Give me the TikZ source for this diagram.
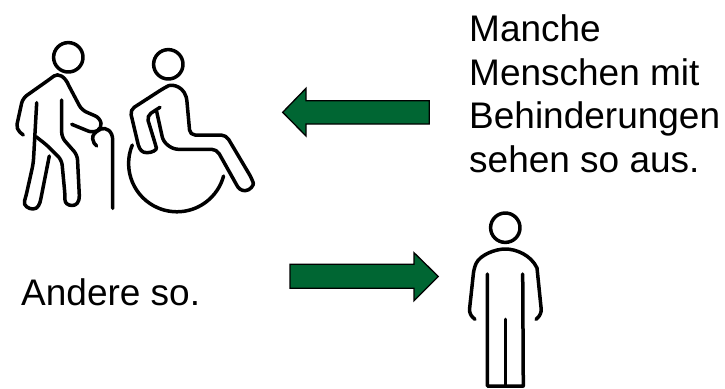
\documentclass[tikz,border=0pt]{standalone}
\usepackage{fontspec}
\setmainfont{Liberation Sans}
\definecolor{arrowgreen}{RGB}{0,102,51}
\usetikzlibrary{positioning}
\tikzset{
  pict/.style={line width=3.5pt,line cap=round,line join=round,rounded corners=5pt},
  blockarrow/.style={draw=black,fill=arrowgreen,line width=1.3pt,line join=miter},
  label/.style={font=\fontsize{37}{43.5}\selectfont,align=left,inner sep=0pt}
}
\begin{document}
\begin{tikzpicture}[x=1pt,y=-1pt]
  \useasboundingbox (0,0) rectangle (725,388);
  % man with stick
  \draw[pict] (68.3,57.3) circle (14.7);
  \draw[pict] (23.3,135) -- (16,129) -- (22.7,98.3) -- (50,79) [sharp corners] .. controls (58,73) and (65,76) .. (69,86) [rounded corners=5pt] -- (81.7,110) -- (100,118) -- (102,128) -- (93,133) -- (71.7,124.3);
  \draw[pict] (36.7,102.7) -- (33.3,163.3) -- (26,196) [sharp corners] .. controls (23,206) and (29,209) .. (33,209) .. controls (38,209) and (40,204) .. (41,198) [rounded corners=5pt] -- (49.3,156);
  \draw[pict] (36,136.7) -- (46.7,145) -- (61.7,160) -- (65,195) [sharp corners] .. controls (65,203) and (68,205.5) .. (72,205.5) .. controls (76,205.5) and (79.5,203) .. (79.3,195) [rounded corners=5pt] -- (77.3,155) -- (61.7,137.3) -- (61.7,100);
  \draw[pict,sharp corners] (112.7,208.3) -- (112.7,140) .. controls (112.7,131) and (106,127) .. (101,129) .. controls (95,132) and (92,135) .. (92.7,139) .. controls (93,142) and (95,145) .. (96.7,146);
  % wheelchair
  \draw[pict] (168.3,64.3) circle (14.7);
  \draw[pict] (160,107.3) -- (146.7,116) -- (155,143) [sharp corners] .. controls (157,150) and (152,152.7) .. (147,152.7) .. controls (142,152.7) and (140,150) .. (138.3,145) [rounded corners=5pt] -- (130,110) -- (164,88) [sharp corners] .. controls (172,84) and (186,86) .. (187,102) [rounded corners=5pt] -- (190,135) -- (226,135) -- (251.7,178.3) [sharp corners] .. controls (254,185) and (250,190.7) .. (245,190.7) .. controls (241,190.7) and (238,188) .. (236.7,185) [rounded corners=5pt] -- (216.7,149.3) -- (173.3,149.3) -- (163.3,141.7) -- (156.7,111.7);
  \draw[pict] (132.3,145) arc[start angle=202.5,end angle=15,radius=48.3];
  % person
  \draw[pict] (505.3,227.7) circle (14.7);
  \draw[pict] (475,319.3) -- (469,314) -- (474,268) [sharp corners] .. controls (480,255) and (495,249) .. (505.3,249) .. controls (516,249) and (531,255) .. (537,268) [rounded corners=5pt] -- (541.7,314) -- (536,319.3);
  \draw[pict,rounded corners=0pt] (487.3,274) -- (487.3,386) -- (523.3,386) -- (522.7,274);
  \draw[pict,rounded corners=0pt] (505.3,319.3) -- (505.3,386);
  % arrows
  \draw[blockarrow] (282.7,112.3) -- (306,88.3) -- (306,100.7) -- (429.3,100.7) -- (429.3,124) -- (306,124) -- (306,136) -- cycle;
  \draw[blockarrow] (438.3,276.5) -- (414,252.7) -- (414,264.3) -- (290,264.3) -- (290,288.3) -- (414,288.3) -- (414,300.7) -- cycle;
  \node[label,anchor=base west] (people) at (469,172) {Manche\\Menschen mit\\Behinderungen\\sehen so aus.};
  \node[label,anchor=base west] (others) at (21,305) {Andere so.};
\end{tikzpicture}
\end{document}
